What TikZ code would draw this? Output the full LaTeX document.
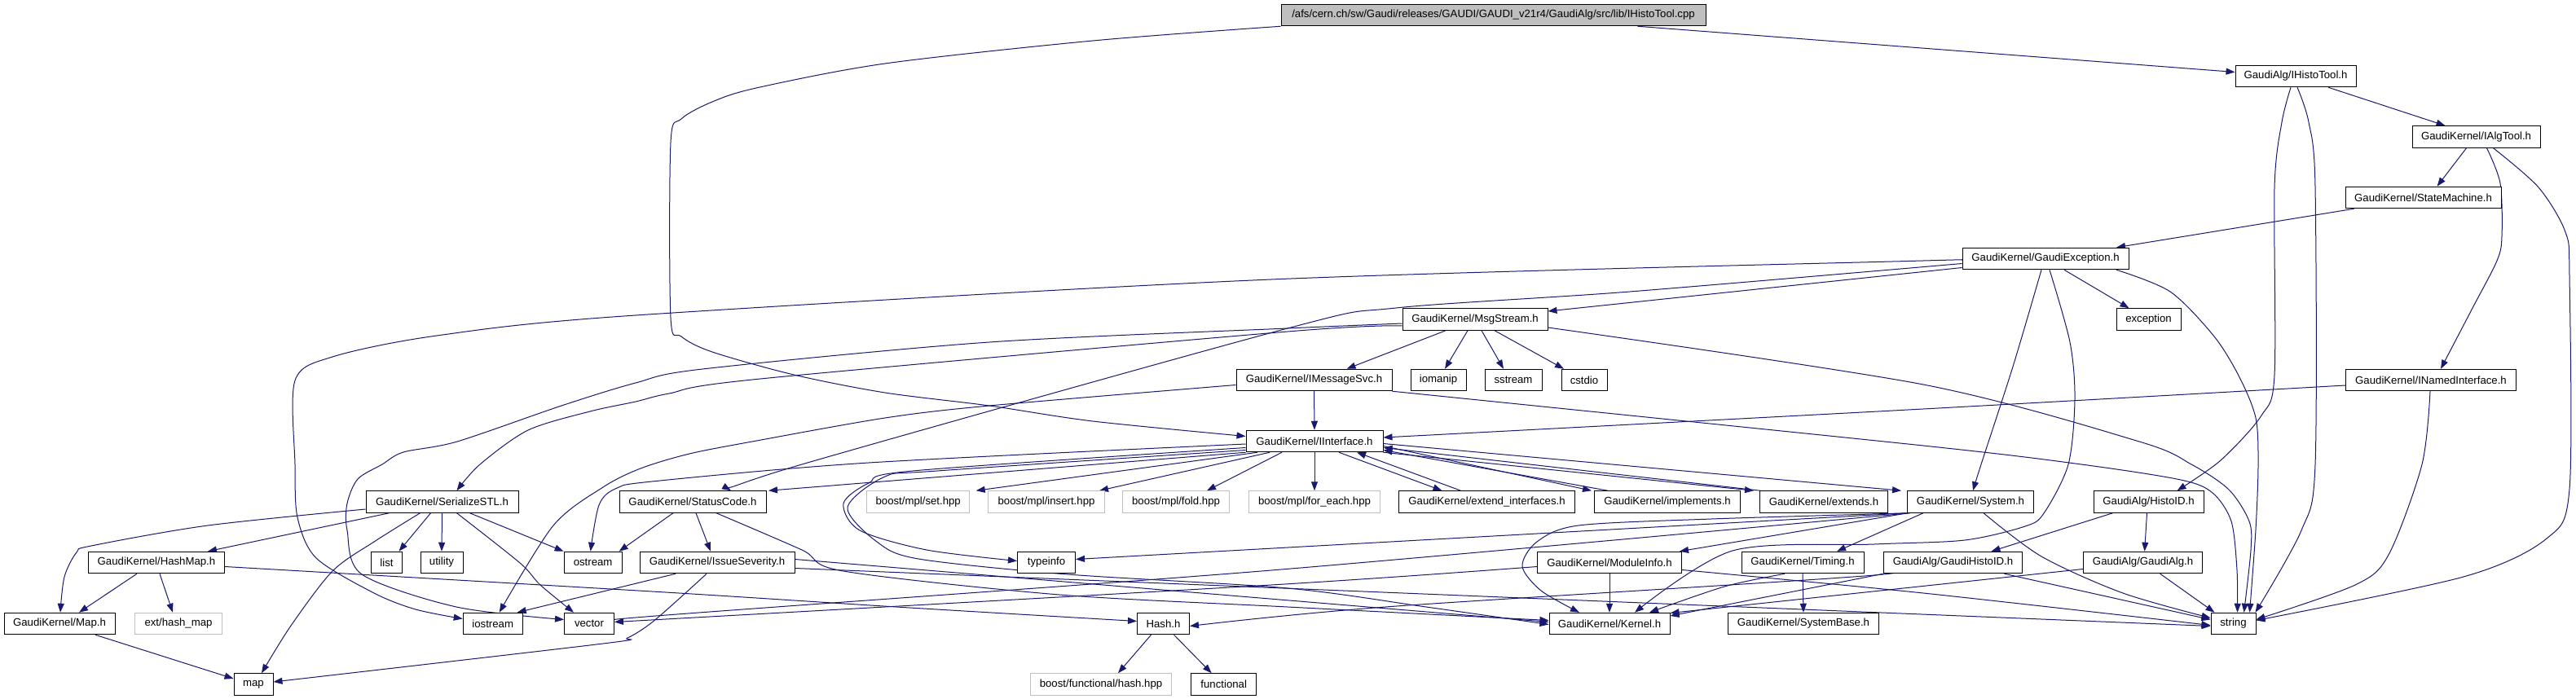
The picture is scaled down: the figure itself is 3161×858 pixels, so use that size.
\documentclass[tikz,border=0pt]{standalone}
\usepackage{fontspec}
\setmainfont{Liberation Sans}
\usetikzlibrary{arrows.meta}
\definecolor{edgec}{HTML}{191970}
\definecolor{boxgray}{HTML}{BFBFBF}
\newcommand\nfont{\fontsize{13.2}{15}\selectfont}
\pgfdeclarelayer{edgelayer}
\pgfsetlayers{edgelayer,main}
\tikzset{
  box/.style={draw=black, line width=1pt, minimum height=26.5pt, inner sep=0pt, font=\nfont, anchor=center, fill=white},
  gbox/.style={box, draw=boxgray},
  rootbox/.style={box, fill=boxgray},
  e/.style={draw=edgec, line width=1pt, -{Triangle[length=11pt,width=8pt]}},
}
\begin{document}
\begin{tikzpicture}[x=1pt,y=-1pt]
\useasboundingbox (0,0) rectangle (3161,858);
% ---------------- nodes ----------------
\node[rootbox, minimum width=521pt] (root) at (1832.5,18.5) {/afs/cern.ch/sw/Gaudi/releases/GAUDI/GAUDI\_v21r4/GaudiAlg/src/lib/IHistoTool.cpp};
\node[box, minimum width=148pt] (ihisto) at (2817,93.5) {GaudiAlg/IHistoTool.h};
\node[box, minimum width=157pt] (ialgtool) at (3038.5,168) {GaudiKernel/IAlgTool.h};
\node[box, minimum width=191pt] (statem) at (2973.5,242.5) {GaudiKernel/StateMachine.h};
\node[box, minimum width=204pt] (gexc) at (2510,317.5) {GaudiKernel/GaudiException.h};
\node[box, minimum width=79pt] (exception) at (2636.5,392) {exception};
\node[box, minimum width=178pt] (msgs) at (1810,392) {GaudiKernel/MsgStream.h};
\node[box, minimum width=68pt] (iomanip) at (1765,466.5) {iomanip};
\node[box, minimum width=70pt] (sstream) at (1857,466.5) {sstream};
\node[box, minimum width=56pt] (cstdio) at (1944,466.5) {cstdio};
\node[box, minimum width=191pt] (imsg) at (1612.5,466.5) {GaudiKernel/IMessageSvc.h};
\node[box, minimum width=209pt] (inamed) at (2983,466.5) {GaudiKernel/INamedInterface.h};
\node[box, minimum width=168pt] (iint) at (1613,541.5) {GaudiKernel/IInterface.h};
\node[box, minimum width=187pt] (serial) at (542.5,616) {GaudiKernel/SerializeSTL.h};
\node[box, minimum width=180pt] (status) at (850,616) {GaudiKernel/StatusCode.h};
\node[gbox, minimum width=126pt] (bset) at (1126.7,616) {boost/mpl/set.hpp};
\node[gbox, minimum width=143pt] (binsert) at (1284,616) {boost/mpl/insert.hpp};
\node[gbox, minimum width=131pt] (bfold) at (1443,616) {boost/mpl/fold.hpp};
\node[gbox, minimum width=161pt] (bforeach) at (1613,616) {boost/mpl/for\_each.hpp};
\node[box, minimum width=216pt] (extint) at (1824.5,616) {GaudiKernel/extend\_interfaces.h};
\node[box, minimum width=179pt] (impl) at (2046,616) {GaudiKernel/implements.h};
\node[box, minimum width=157pt] (extends) at (2238,616) {GaudiKernel/extends.h};
\node[box, minimum width=155pt] (system) at (2418,616) {GaudiKernel/System.h};
\node[box, minimum width=135pt] (histoid) at (2636.5,616) {GaudiAlg/HistoID.h};
\node[box, minimum width=167pt] (hashmap) at (192,690.5) {GaudiKernel/HashMap.h};
\node[box, minimum width=38pt] (list) at (474.5,690.5) {list};
\node[box, minimum width=52pt] (utility) at (542,690.5) {utility};
\node[box, minimum width=71pt] (ostream) at (727.6,690.5) {ostream};
\node[box, minimum width=190pt] (issue) at (880,690.5) {GaudiKernel/IssueSeverity.h};
\node[box, minimum width=71pt] (typeinfo) at (1284,690.5) {typeinfo};
\node[box, minimum width=177pt] (modinfo) at (1975,690.5) {GaudiKernel/ModuleInfo.h};
\node[box, minimum width=150pt] (timing) at (2212,690.5) {GaudiKernel/Timing.h};
\node[box, minimum width=170pt] (ghistoid) at (2396.5,690.5) {GaudiAlg/GaudiHistoID.h};
\node[box, minimum width=146pt] (gaudialg) at (2629.6,690.5) {GaudiAlg/GaudiAlg.h};
\node[box, minimum width=136pt] (mapp) at (73,765.5) {GaudiKernel/Map.h};
\node[gbox, minimum width=107pt] (exthash) at (219,765.5) {ext/hash\_map};
\node[box, minimum width=73pt] (iostream) at (604.7,765.5) {iostream};
\node[box, minimum width=61pt] (vector) at (723,765.5) {vector};
\node[box, minimum width=64pt] (hash) at (1427.5,765.5) {Hash.h};
\node[box, minimum width=148pt] (kernel) at (1975,765.5) {GaudiKernel/Kernel.h};
\node[box, minimum width=185pt] (sysbase) at (2213,765.5) {GaudiKernel/SystemBase.h};
\node[box, minimum width=55pt] (string) at (2740.5,765.5) {string};
\node[box, minimum width=48pt] (map) at (311,840) {map};
\node[gbox, minimum width=173pt] (bfunc) at (1351,840) {boost/functional/hash.hpp};
\node[box, minimum width=80pt] (functional) at (1501.7,840) {functional};
% ---------------- edges ----------------
\begin{pgfonlayer}{edgelayer}
\fill[white] (0,0) rectangle (3161,858);
\draw[e] ([xshift=177pt]root.south) -- ([yshift=5pt]ihisto.west);
\draw[e] plot[smooth] coordinates {(root.south west) (1341,50) (1086,78) (928,108) (874,125) (836,146) (823,175) (823,390) (836,413) (874,432) (974,460) (1086,482) (1214,498) (1341,517) ([yshift=6pt]iint.west)};
\draw[e] ([xshift=40pt]ihisto.south) -- ([xshift=-38pt]ialgtool.north);
\draw[e] plot[smooth] coordinates {([xshift=-6pt]ihisto.south) (2800,150) (2791,230) (2791,460) (2775,510) (2725,565) ([xshift=35pt]histoid.north)};
\draw[e] plot[smooth] coordinates {([xshift=2pt]ihisto.south) (2833,150) (2841,230) (2841,570) (2824,651) ([xshift=27pt]string.north)};
\draw[e] ([xshift=-12pt]ialgtool.south) -- ([xshift=17pt]statem.north);
\draw[e] plot[smooth] coordinates {([xshift=13pt]ialgtool.south) (3068,225) (3070,290) (3064,320) (3033,380) ([xshift=12pt]inamed.north)};
\draw[e] plot[smooth] coordinates {([xshift=21pt]ialgtool.south) (3115,230) (3148,285) (3153,340) (3153,600) (3125,661) (3023,708) ([yshift=4pt]string.east)};
\draw[e] ([xshift=-85pt]statem.south) -- ([xshift=87pt]gexc.north);
\draw[e] ([xshift=23pt]gexc.south) -- ([xshift=-24pt]exception.north);
\draw[e] ([yshift=-11pt]gexc.west) -- ([yshift=10pt]msgs.east);
\draw[e] plot[smooth] coordinates {([yshift=-2pt]gexc.west) (2360,320) (1560,343) (780,387) (536,412) (408,438) (362,467) (362,570) (365,635) (388,685) (459,728) (510,748) ([yshift=6pt]iostream.west)};
\draw[e] plot[smooth] coordinates {([yshift=-6pt]gexc.west) (2000,358) (1713,378) (1580,403) (984,570) ([xshift=47pt]status.north)};
\draw[e] plot[smooth] coordinates {([xshift=-5pt]gexc.south) (2470,450) (2431,570) ([xshift=3pt]system.north)};
\draw[e] plot[smooth] coordinates {([xshift=5pt]gexc.south) (2540,420) (2546,490) (2538,570) (2508,630) (2485,646) (2411,663) (2300,668) (2126,676) ([xshift=31pt]kernel.north)};
\draw[e] plot[smooth] coordinates {([xshift=87pt]gexc.south) (2663,358) (2717,413) (2748,463) (2768,513) (2771,570) (2768,650) ([xshift=20pt]string.north)};
\draw[e] ([xshift=-36pt]msgs.south) -- ([xshift=40pt]imsg.north);
\draw[e] ([xshift=-9pt]msgs.south) -- ([xshift=8pt]iomanip.north);
\draw[e] ([xshift=8pt]msgs.south) -- ([xshift=-12pt]sstream.north);
\draw[e] ([xshift=24pt]msgs.south) -- ([xshift=-25pt]cstdio.north);
\draw[e] plot[smooth] coordinates {([yshift=-10pt]msgs.east) (2360,472) (2625,542) (2689,570) (2735,601) (2760,640) (2762,675) ([xshift=13pt]string.north)};
\draw[e] plot[smooth] coordinates {([yshift=-5pt]msgs.west) (1580,403) (1214,420) (862,453) (780,470) (689,498) (561,542) (495,555) (469,570) (439,588) (426,618) (426,651) (444,705) (560,745) ([yshift=5pt]vector.west)};
\draw[e] plot[smooth] coordinates {([yshift=-8pt]msgs.west) (1580,407) (933,465) (821,483) (780,493) (724,505) (648,528) (589,570) ([xshift=18pt]serial.north)};
\draw[e] (imsg.south) -- (iint.north);
\draw[e] plot[smooth] coordinates {(imsg.south east) (2360,547) (2554,570) (2676,589) (2715,605) (2738,640) (2745,700) ([xshift=5pt]string.north)};
\draw[e] plot[smooth] coordinates {([yshift=-6pt]imsg.west) (1214,498) (1086,513) (923,542) (846,557) (786,575) (740,598) (679,645) ([xshift=8pt]iostream.north)};
\draw[e] plot[smooth] coordinates {([yshift=-6.5pt]inamed.west) (2360,502) ([yshift=4.5pt]iint.east)};
\draw[e] plot[smooth] coordinates {([xshift=-1pt]inamed.south) (2972,570) (2931,681) (2890,718) ([yshift=5pt]string.east)};
\draw[e] (iint.south west) -- ([xshift=93pt]status.north);
\draw[e] ([xshift=-70pt]iint.south) -- ([xshift=71pt]bset.north);
\draw[e] ([xshift=-55pt]iint.south) -- ([xshift=65pt]binsert.north);
\draw[e] ([xshift=-40pt]iint.south) -- ([xshift=38pt]bfold.north);
\draw[e] (iint.south) -- (bforeach.north);
\draw[e] ([xshift=30pt]iint.south) -- ([xshift=-55pt]extint.north);
\draw[e] ([xshift=-32pt]extint.north) -- ([xshift=52pt]iint.south);
\draw[e] ([yshift=-6pt]iint.east) -- ([xshift=-93pt]impl.north);
\draw[e] ([xshift=-73pt]impl.north) -- ([yshift=-11pt]iint.east);
\draw[e] (iint.south east) -- ([xshift=-86pt]extends.north);
\draw[e] ([xshift=-78pt]extends.north) -- ([yshift=-8pt]iint.east);
\draw[e] ([yshift=-3pt]iint.east) -- ([xshift=-85pt]system.north);
\draw[e] plot[smooth] coordinates {([yshift=-3.5pt]iint.west) (1066,568) (800,591) (755,600) (735,620) ([xshift=-3pt]ostream.north)};
\draw[e] plot[smooth] coordinates {([yshift=-8pt]iint.west) (1120,578) (1066,593) (1035,618) (1055,651) (1137,675) ([yshift=2pt]typeinfo.west)};
\draw[e] plot[smooth] coordinates {([yshift=-11pt]iint.west) (1150,578) (1086,585) (1040,623) (1076,665) (1127,686) (1310,705) (1580,722) (1750,745) ([yshift=-1pt]kernel.west)};
\draw[e] ([xshift=-65pt]serial.south) -- ([xshift=63pt]hashmap.north);
\draw[e] plot[smooth] coordinates {([yshift=-9pt]serial.west) (255,645) (112,670) (94,678) (79,708) ([xshift=1pt]mapp.north)};
\draw[e] ([xshift=-14pt]serial.south) -- ([xshift=15pt]list.north);
\draw[e] (serial.south) -- (utility.north);
\draw[e] ([xshift=34pt]serial.south) -- ([xshift=-36pt]ostream.north);
\draw[e] plot[smooth] coordinates {([xshift=18pt]serial.south) (638,691) (663,718) ([xshift=-19pt]vector.north)};
\draw[e] plot[smooth] coordinates {([xshift=-27pt]serial.south) (459,665) (408,701) (357,768) ([xshift=10pt]map.north)};
\draw[e] ([xshift=-24pt]hashmap.south) -- ([xshift=24pt]mapp.north);
\draw[e] ([xshift=4pt]hashmap.south) -- ([xshift=-7pt]exthash.north);
\draw[e] plot[smooth] coordinates {([yshift=-5pt]hashmap.east) (800,726) (1100,745) ([yshift=3pt]hash.west)};
\draw[e] ([xshift=44pt]mapp.south) -- ([yshift=7pt]map.west);
\draw[e] ([xshift=4pt]status.south) -- ([xshift=-8pt]issue.north);
\draw[e] ([xshift=-24pt]status.south) -- ([xshift=32pt]ostream.north);
\draw[e] plot[smooth] coordinates {([xshift=29pt]status.south) (984,675) (1035,701) (1300,730) (1580,745) ([yshift=4pt]kernel.west)};
\draw[e] ([xshift=-51pt]issue.south) -- ([xshift=30pt]iostream.north);
\draw[e] plot[smooth] coordinates {([xshift=-13pt]issue.south) (841,728) (800,764) (770,783) (740,790) ([yshift=3pt]map.east)};
\draw[e] ([yshift=4pt]issue.east) -- ([yshift=2pt]kernel.west);
\draw[e] ([yshift=-7pt]issue.east) -- ([yshift=-3pt]string.west);
\draw[e] ([xshift=-15pt]hash.south) -- ([xshift=21pt]bfunc.north);
\draw[e] ([xshift=13pt]hash.south) -- ([xshift=-15pt]functional.north);
\draw[e] ([xshift=-44pt]histoid.south) -- ([xshift=47pt]ghistoid.north);
\draw[e] ([xshift=-2pt]histoid.south) -- ([xshift=2pt]gaudialg.north);
\draw[e] ([xshift=63pt]ghistoid.south) -- ([yshift=5pt]string.west);
\draw[e] (ghistoid.south west) -- ([yshift=9.5pt]kernel.east);
\draw[e] plot[smooth] coordinates {([yshift=-3pt]ghistoid.west) (2300,706) (1700,745) ([yshift=-3pt]hash.east)};
\draw[e] ([yshift=-8pt]gaudialg.west) -- ([yshift=13pt]kernel.east);
\draw[e] ([xshift=21pt]gaudialg.south) -- ([xshift=-23pt]string.north);
\draw[e] ([xshift=-77pt]system.south) -- ([xshift=86pt]modinfo.north);
\draw[e] ([xshift=-58pt]system.south) -- ([xshift=42pt]timing.north);
\draw[e] plot[smooth] coordinates {([xshift=-76pt]system.south) (2100,637) (1937,645) (1886,665) (1868,695) (1891,725) ([xshift=-37pt]kernel.north)};
\draw[e] plot[smooth] coordinates {([xshift=16pt]system.south) (2505,683) (2605,728) ([yshift=7pt]string.west)};
\draw[e] (system.south west) -- ([yshift=4pt]typeinfo.east);
\draw[e] plot[smooth] coordinates {([xshift=-74pt]system.south) (1560,700) (780,758) ([yshift=-2pt]vector.east)};
\draw[e] (modinfo.south) -- (kernel.north);
\draw[e] plot[smooth] coordinates {([yshift=-5pt]modinfo.west) (1560,718) ([yshift=2pt]vector.east)};
\draw[e] plot[smooth] coordinates {([yshift=-9pt]modinfo.east) (2360,728) ([yshift=-2pt]string.west)};
\draw[e] plot[smooth] coordinates {([xshift=-22pt]timing.south) (2116,720) ([xshift=49pt]kernel.north)};
\draw[e] (timing.south) -- (sysbase.north);
\end{pgfonlayer}
\end{tikzpicture}
\end{document}
